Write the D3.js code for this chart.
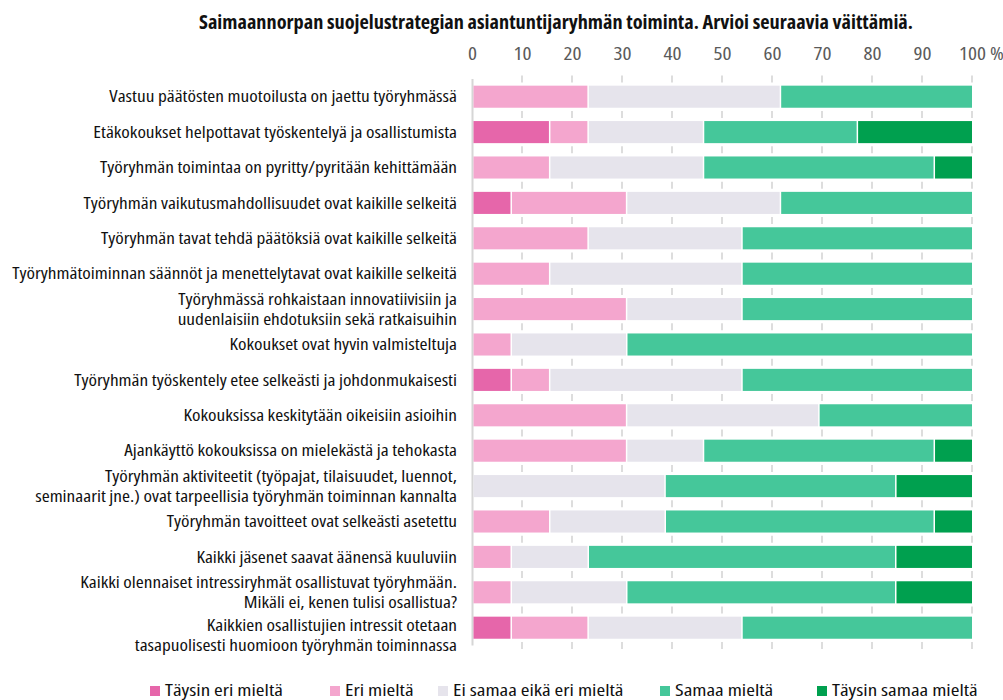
<!DOCTYPE html>
<html>
<head>
<meta charset="utf-8">
<script src="https://cdn.jsdelivr.net/npm/d3@7"></script>
<style>
  html, body { margin: 0; padding: 0; background: #fff; }
  svg { display: block; font-family: "Open Sans", "DejaVu Sans Condensed", sans-serif; font-stretch: condensed; }
</style>
</head>
<body>
<svg id="chart" width="1003" height="700"></svg>
<script>
const categories = [
  "Vastuu päätösten muotoilusta on jaettu työryhmässä",
  "Etäkokoukset helpottavat työskentelyä ja osallistumista",
  "Työryhmän toimintaa on pyritty/pyritään kehittämään",
  "Työryhmän vaikutusmahdollisuudet ovat kaikille selkeitä",
  "Työryhmän tavat tehdä päätöksiä ovat kaikille selkeitä",
  "Työryhmätoiminnan säännöt ja menettelytavat ovat kaikille selkeitä",
  "Työryhmässä rohkaistaan innovatiivisiin ja\nuudenlaisiin ehdotuksiin sekä ratkaisuihin",
  "Kokoukset ovat hyvin valmisteltuja",
  "Työryhmän työskentely etee selkeästi ja johdonmukaisesti",
  "Kokouksissa keskitytään oikeisiin asioihin",
  "Ajankäyttö kokouksissa on mielekästä ja tehokasta",
  "Työryhmän aktiviteetit (työpajat, tilaisuudet, luennot,\nseminaarit jne.) ovat tarpeellisia työryhmän toiminnan kannalta",
  "Työryhmän tavoitteet ovat selkeästi asetettu",
  "Kaikki jäsenet saavat äänensä kuuluviin",
  "Kaikki olennaiset intressiryhmät osallistuvat työryhmään.\nMikäli ei, kenen tulisi osallistua?",
  "Kaikkien osallistujien intressit otetaan\ntasapuolisesti huomioon työryhmän toiminnassa"
];

const seriesNames = ["Täysin eri mieltä", "Eri mieltä", "Ei samaa eikä eri mieltä", "Samaa mieltä", "Täysin samaa mieltä"];
const seriesColors = ["#e666aa", "#f4a6ce", "#e6e4ec", "#45c79a", "#00a04f"];

// values in percent
const taysinEri   = [0, 15.4, 0, 7.7, 0, 0, 0, 0, 7.7, 0, 0, 0, 0, 0, 0, 7.7];
const eri         = [23.1, 7.7, 15.4, 23.1, 23.1, 15.4, 30.8, 7.7, 7.7, 30.8, 30.8, 0, 15.4, 7.7, 7.7, 15.4];
const eiSamaa     = [38.5, 23.1, 30.8, 30.8, 30.8, 38.5, 23.1, 23.1, 38.5, 38.5, 15.4, 38.5, 23.1, 15.4, 23.1, 30.8];
const samaa       = [38.5, 30.8, 46.2, 38.5, 46.2, 46.2, 46.2, 69.2, 46.2, 30.8, 46.2, 46.2, 53.8, 61.5, 53.8, 46.2];
const taysinSamaa = [0, 23.1, 7.7, 0, 0, 0, 0, 0, 0, 0, 7.7, 15.4, 7.7, 15.4, 15.4, 0];

const tickValues = [0, 10, 20, 30, 40, 50, 60, 70, 80, 90, 100];
const titleText = "Saimaannorpan suojelustrategian asiantuntijaryhmän toiminta. Arvioi seuraavia väittämiä.";

const seriesData = [taysinEri, eri, eiSamaa, samaa, taysinSamaa];
const rows = categories.map((c, i) => {
  const r = { category: c };
  seriesNames.forEach((s, k) => r[s] = seriesData[k][i]);
  return r;
});

const svg = d3.select("#chart");
const x0 = 472, x1 = 972;
const yTop = 79, yBot = 645.4;

const x = d3.scaleLinear().domain([0, 1]).range([x0, x1]);
const y = d3.scaleBand().domain(categories).range([yTop, yBot]).paddingInner(0.32).paddingOuter(0.16);
const color = d3.scaleOrdinal().domain(seriesNames).range(seriesColors);

const stacked = d3.stack().keys(seriesNames).offset(d3.stackOffsetExpand)(rows);

// helper: measure a text string with given font settings
const measurer = svg.append("text").attr("opacity", 0);
function measure(str, size, weight) {
  measurer.attr("font-size", size).attr("font-weight", weight || "normal").text(str);
  return measurer.node().getComputedTextLength();
}

// title
const titleSize = 19;
const titleSx = 714 / measure(titleText, titleSize, "bold");
svg.append("text")
  .attr("transform", `translate(556,29) scale(${titleSx},1)`)
  .attr("text-anchor", "middle")
  .attr("font-weight", "bold")
  .attr("font-size", titleSize)
  .attr("fill", "#111")
  .text(titleText);

// grid dashes in gaps between bars
const step = y.step();
const gapYs = d3.range(categories.length + 1).map(i => yTop + i * step);
const gridG = svg.append("g");
tickValues.filter(t => t > 0).forEach(t => {
  gridG.append("g").selectAll("line").data(gapYs).join("line")
    .attr("x1", x(t / 100)).attr("x2", x(t / 100))
    .attr("y1", d => d - 3.5).attr("y2", d => d + 3.5)
    .attr("stroke", "#d2d2d2").attr("stroke-width", 1.5);
});

// baseline at 0
svg.append("line")
  .attr("x1", x(0) + 0.5).attr("x2", x(0) + 0.5)
  .attr("y1", yTop).attr("y2", yBot)
  .attr("stroke", "#d6d6d6").attr("stroke-width", 2);

// bars
svg.append("g").selectAll("g").data(stacked).join("g")
  .attr("fill", d => color(d.key))
  .selectAll("rect").data(d => d.filter(p => p[1] - p[0] > 1e-6)).join("rect")
  .attr("x", d => x(d[0]) + 1.5)
  .attr("width", d => x(d[1]) - x(d[0]) - 1.5)
  .attr("y", d => y(d.data.category) + 1)
  .attr("height", y.bandwidth() - 2);

// top axis
const tickSize = 18;
const tickSx = 27 / measure("100", tickSize);
const axis = d3.axisTop(x).tickValues(tickValues.map(t => t / 100)).tickSize(0).tickPadding(0)
  .tickFormat(d => d3.format(".0f")(d * 100));
const axG = svg.append("g").attr("transform", "translate(0,60)").call(axis);
axG.attr("font-family", null).attr("font-size", null);
axG.select(".domain").remove();
axG.selectAll("text")
  .attr("font-size", tickSize)
  .attr("fill", "#5a5a5a")
  .attr("dy", 0)
  .attr("transform", `scale(${tickSx},1)`);
axG.selectAll(".tick").filter(d => Math.abs(d - 1) < 1e-9).select("text")
  .each(function () {
    const w = this.getComputedTextLength();
    d3.select(this).attr("text-anchor", "start").attr("x", -w / 2).text("100 %");
  });

// category labels
const labelSize = 17;
const longest = categories.flatMap(c => c.split("\n")).reduce((a, b) => measure(a, labelSize) > measure(b, labelSize) ? a : b);
const labelSx = 445 / measure(longest, labelSize);
const labelG = svg.append("g");
categories.forEach((c, idx) => {
  const lines = c.split("\n");
  const extra = idx === categories.length - 1 ? 8 : 0;
  const cy = y(c) + y.bandwidth() / 2 + extra;
  const t = labelG.append("text")
    .attr("transform", `translate(457,0) scale(${labelSx},1)`)
    .attr("text-anchor", "end")
    .attr("font-size", labelSize)
    .attr("fill", "#111");
  lines.forEach((ln, i) => {
    t.append("tspan")
      .attr("x", 0)
      .attr("y", cy + (i - (lines.length - 1) / 2) * 20)
      .attr("dy", "0.33em")
      .text(ln);
  });
});

// legend
const legSize = 17;
const legSx = 118 / measure(seriesNames[0], legSize);
const legendX = [150, 330, 438, 660, 817];
const legend = svg.append("g");
const items = legend.selectAll("g").data(seriesNames).join("g")
  .attr("transform", (d, i) => `translate(${legendX[i]},0)`);
items.append("rect").attr("width", 10).attr("height", 10).attr("y", 686).attr("fill", d => color(d));
items.append("text")
  .attr("transform", `translate(15,695.5) scale(${legSx},1)`)
  .attr("font-size", legSize).attr("fill", "#111").text(d => d);
measurer.remove();
</script>
</body>
</html>
